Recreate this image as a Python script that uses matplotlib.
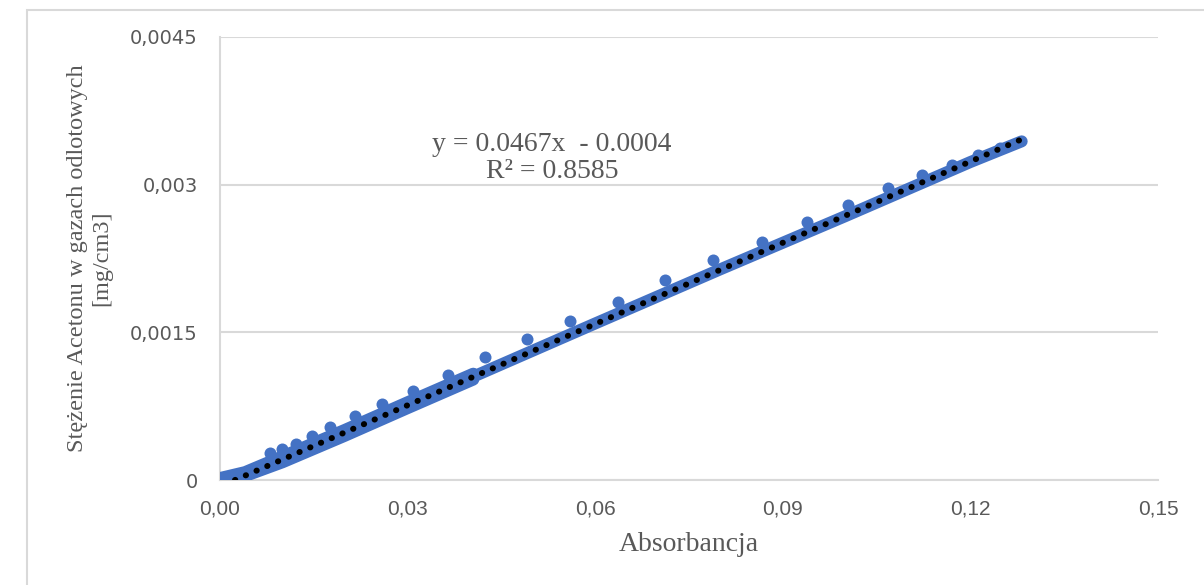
import matplotlib
matplotlib.use("Agg")
import matplotlib.pyplot as plt
from matplotlib.patches import Rectangle

band_upper_x = [0.0000, 0.0040, 0.0100, 0.0200, 0.0300, 0.0405]
band_upper_y = [0.00002, 0.00008, 0.00024, 0.00051, 0.00079, 0.00108]
band_lower_x = [0.0000, 0.0040, 0.0100, 0.0200, 0.0300, 0.0405]
band_lower_y = [0.00001, 0.00004, 0.00018, 0.00045, 0.00073, 0.00102]
band_main_x = [0.0405, 0.0600, 0.0800, 0.1000, 0.1200, 0.1282]
band_main_y = [0.00105, 0.00159, 0.00214, 0.00268, 0.00323, 0.00344]

# single points sitting slightly above the band
bump_x = [0.0080, 0.0099, 0.0122, 0.0147, 0.0176, 0.0216, 0.0259, 0.0309,
          0.0365, 0.0424, 0.0491, 0.0560, 0.0637, 0.0712, 0.0788, 0.0867,
          0.0939, 0.1004, 0.1068, 0.1123, 0.1171, 0.1212, 0.1247]
bump_y = [0.00027, 0.00031, 0.00037, 0.00045, 0.00054, 0.00065, 0.00077, 0.00090,
          0.00107, 0.00125, 0.00143, 0.00162, 0.00181, 0.00203, 0.00223, 0.00242,
          0.00262, 0.00279, 0.00297, 0.00310, 0.00320, 0.00330, 0.00337]

# linear trendline drawn on the chart
trend_x = [0.0024, 0.1278]
trend_y = [0.0000, 0.00345]

xticks = [0.00, 0.03, 0.06, 0.09, 0.12, 0.15]
xtick_labels = ["0,00", "0,03", "0,06", "0,09", "0,12", "0,15"]
yticks = [0, 0.0015, 0.003, 0.0045]
ytick_labels = ["0", "0,0015", "0,003", "0,0045"]

blue = "#4472C4"
grey_txt = "#595959"
grid_c = "#d9d9d9"
px = 72 / 100  # points per pixel

fig = plt.figure(figsize=(12.04, 5.85), dpi=100)
fig.patches.append(Rectangle((27 / 1204, -0.05), 1.2, 1.05 - 10 / 585,
                             transform=fig.transFigure, fill=False,
                             edgecolor=grid_c, linewidth=1.5))
ax = fig.add_axes([220 / 1204, 1 - 480 / 585, 938 / 1204, 443 / 585])

for bx, by in [(band_lower_x, band_lower_y), (band_upper_x, band_upper_y),
               (band_main_x, band_main_y)]:
    ax.plot(bx, by, color=blue, linewidth=12 * px, solid_capstyle="round",
            solid_joinstyle="round", zorder=3)
ax.scatter(bump_x, bump_y, s=(12 * px) ** 2, color=blue, linewidths=0, zorder=3)
ax.plot(trend_x, trend_y, color="black", linewidth=6 * px,
        linestyle=(0, (0.05, 1.9)), dash_capstyle="round", zorder=4)

ax.set_xlim(0, 0.15)
ax.set_ylim(0, 0.0045)
ax.set_xticks(xticks)
ax.set_xticklabels(xtick_labels, family="Liberation Sans", fontsize=15,
                   color=grey_txt)
ax.set_yticks(yticks)
ax.set_yticklabels(ytick_labels, family="DejaVu Sans", fontsize=14, color=grey_txt)
ax.tick_params(axis="x", length=0, pad=14)
ax.tick_params(axis="y", length=0, pad=16)
ax.grid(axis="y", color=grid_c, linewidth=1.5)
ax.set_axisbelow(True)
for s in ["top", "right"]:
    ax.spines[s].set_visible(False)
ax.spines["left"].set_color(grid_c)
ax.spines["left"].set_linewidth(1.5)
ax.spines["bottom"].set_color(grid_c)
ax.spines["bottom"].set_linewidth(1.5)

ax.set_xlabel("Absorbancja", family="Liberation Serif", fontsize=20,
              color=grey_txt, labelpad=10)
fig.text(90 / 1204, 1 - 258 / 585, "Stężenie Acetonu w gazach odlotowych\n[mg/cm3]",
         rotation=90, ha="center", va="center", family="Liberation Serif",
         fontsize=17.5, color=grey_txt, linespacing=1.2)

ax.text(0.0531, 0.00327, "y = 0.0467x  - 0.0004\nR² = 0.8585", ha="center",
        va="center", family="Liberation Serif", fontsize=20, color=grey_txt,
        linespacing=1.12)

fig.savefig("out.png", dpi=100)
